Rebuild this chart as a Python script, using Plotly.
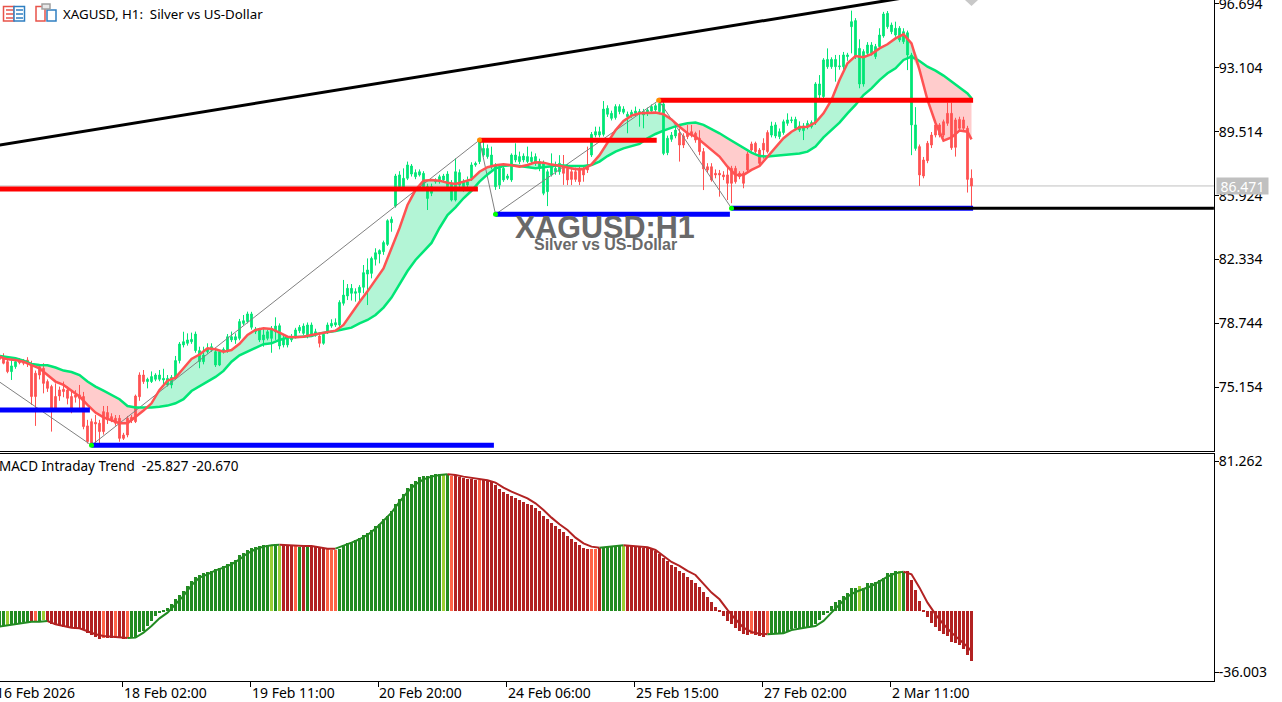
import plotly.graph_objects as go

# candle values, one per H1 bar
bodyTop = [
    76.88, 76.88, 76.60, 76.36, 76.60, 76.69, 76.65, 76.69, 76.41, 75.95,
    76.32, 76.23, 75.48, 75.20, 74.64, 75.01, 75.05, 75.01, 74.64, 74.73,
    74.73, 74.64, 72.99, 73.23, 73.19, 73.14, 73.79, 73.74, 73.51, 73.42,
    73.42, 72.48, 73.42, 73.47, 74.67, 75.85, 75.85, 75.61, 75.76, 75.85,
    75.85, 75.66, 75.66, 75.72, 76.66, 77.59, 77.72, 77.82, 77.85, 78.15,
    77.22, 76.97, 77.35, 77.44, 77.16, 77.16, 77.29, 78.0, 78.0, 78.0,
    78.85, 78.9, 79.28, 79.28, 78.42, 78.38, 78.1, 78.28, 78.47, 78.6,
    78.62, 77.91, 77.91, 78.0, 78.38, 78.53, 78.6, 78.66, 78.66, 78.28,
    78.04, 78.14, 78.66, 78.75, 78.79, 79.93, 80.34, 80.72, 80.72, 80.53,
    80.78, 81.6, 81.75, 82.4, 82.72, 82.84, 83.29, 84.52, 84.6, 87.03,
    87.09, 86.9, 87.65, 87.59, 87.22, 87.27, 87.18, 86.43, 86.43, 86.81,
    86.99, 87.03, 87.14, 86.62, 87.27, 87.22, 86.71, 86.71, 87.65, 87.74,
    88.96, 88.58, 88.58, 88.21, 87.59, 87.46, 87.46, 87.03, 88.21, 88.21,
    88.12, 88.15, 88.12, 88.08, 88.12, 87.84, 87.74, 87.27, 87.55, 87.46,
    87.74, 87.55, 87.46, 87.27, 87.27, 87.37, 87.41, 87.65, 89.37, 89.52,
    89.52, 90.79, 90.83, 90.55, 90.93, 90.93, 90.79, 90.5, 90.61, 90.68,
    90.65, 90.65, 90.74, 90.93, 90.98, 91.11, 91.08, 89.15, 89.33, 89.61,
    89.43, 89.28, 89.43, 89.52, 89.43, 89.15, 88.4, 87.55, 87.55, 87.18,
    87.18, 87.09, 87.09, 87.46, 87.46, 87.18, 87.18, 88.27, 88.83, 88.87,
    88.49, 88.87, 89.47, 89.84, 89.9, 89.52, 90.08, 90.18, 90.18, 90.21,
    89.84, 89.84, 89.99, 90.03, 92.2, 92.2, 93.55, 93.58, 93.58, 93.58,
    93.21, 93.83, 93.83, 95.7, 95.76, 94.2, 94.02, 94.39, 94.39, 94.3,
    94.95, 96.13, 96.17, 95.51, 95.33, 95.33, 95.14, 95.08, 93.83, 89.9,
    88.68, 87.93, 88.87, 89.33, 89.9, 89.9, 90.08, 90.55, 90.55, 90.18,
    90.21, 90.18, 89.71, 86.9,
]
bodyBottom = [
    76.73, 76.51, 76.04, 76.04, 76.32, 76.54, 76.51, 76.47, 74.64, 74.64,
    75.85, 75.38, 75.10, 73.98, 73.98, 74.67, 74.92, 74.54, 73.98, 74.6,
    74.54, 72.95, 72.11, 72.01, 73.10, 72.67, 72.67, 73.33, 73.33, 73.14,
    72.29, 72.29, 72.48, 73.29, 73.23, 74.63, 75.48, 75.48, 75.48, 75.61,
    75.61, 75.57, 75.29, 75.29, 75.72, 76.66, 77.54, 77.63, 77.72, 77.22,
    76.60, 76.60, 77.16, 77.25, 76.41, 76.41, 77.16, 77.22, 77.82, 77.82,
    77.91, 78.75, 78.85, 78.53, 78.28, 77.82, 77.82, 77.91, 77.91, 78.28,
    77.48, 77.54, 77.54, 77.82, 78.04, 78.34, 78.19, 78.1, 78.15, 78.1,
    77.63, 77.63, 78.28, 78.6, 78.66, 78.66, 79.88, 80.29, 80.44, 80.44,
    80.48, 80.78, 81.52, 81.56, 82.35, 82.65, 82.78, 83.19, 84.41, 85.34,
    86.43, 86.34, 86.9, 87.14, 86.99, 87.09, 86.43, 85.77, 86.06, 86.71,
    86.71, 86.81, 86.43, 85.68, 85.68, 86.52, 86.43, 86.52, 86.9, 87.65,
    87.84, 88.21, 88.12, 87.55, 86.43, 86.52, 86.81, 86.9, 86.81, 87.93,
    87.84, 87.93, 87.84, 87.84, 87.74, 87.46, 86.06, 86.15, 87.09, 87.27,
    87.27, 87.18, 86.81, 86.84, 86.84, 86.71, 87.09, 87.37, 88.21, 89.33,
    89.33, 89.37, 90.5, 90.27, 90.31, 90.65, 90.61, 90.36, 90.46, 90.55,
    90.55, 90.46, 90.55, 90.68, 90.74, 90.65, 88.3, 88.34, 89.09, 89.28,
    88.77, 88.77, 89.24, 89.33, 89.05, 88.4, 87.43, 87.37, 86.81, 87.09,
    87.09, 86.99, 86.62, 86.62, 86.71, 86.99, 86.62, 87.37, 88.49, 88.4,
    87.74, 88.49, 88.4, 89.33, 89.28, 89.24, 89.47, 89.99, 90.14, 89.71,
    89.61, 89.58, 89.8, 89.8, 90.03, 91.58, 91.49, 93.17, 93.17, 93.17,
    93.17, 93.17, 93.74, 95.42, 93.74, 92.2, 92.2, 93.92, 93.92, 93.74,
    94.3, 94.9, 95.42, 95.14, 94.95, 94.67, 94.58, 93.83, 89.9, 88.58,
    87.09, 87.03, 87.89, 88.77, 89.33, 89.33, 89.33, 89.99, 88.62, 88.64,
    89.71, 89.71, 86.84, 86.47,
]
highs = [
    77.0, 77.07, 76.79, 76.69, 76.72, 76.8, 76.75, 76.85, 76.65, 76.1,
    76.45, 76.51, 75.6, 75.3, 75.38, 75.2, 75.48, 75.2, 75.0, 75.0,
    75.29, 74.9, 73.33, 73.4, 73.61, 73.33, 74.11, 74.11, 73.7, 73.6,
    73.6, 72.6, 73.55, 73.6, 74.75, 76.0, 76.13, 75.7, 76.05, 75.95,
    76.13, 76.2, 75.85, 75.85, 76.92, 77.7, 78.28, 78.19, 78.23, 78.29,
    77.44, 77.44, 77.63, 77.63, 77.3, 77.25, 77.4, 78.15, 78.29, 78.19,
    79.0, 79.22, 79.41, 79.4, 78.55, 78.5, 78.47, 78.4, 78.6, 79.09,
    78.75, 78.05, 78.0, 78.15, 78.5, 78.66, 78.75, 78.8, 78.8, 78.45,
    78.2, 78.25, 78.8, 78.98, 79.03, 80.05, 81.19, 80.96, 80.96, 80.72,
    80.9, 82.03, 82.4, 82.5, 82.97, 82.91, 83.4, 84.6, 84.75, 87.15,
    87.3, 87.46, 87.84, 87.7, 87.4, 87.4, 87.3, 86.6, 86.6, 86.9,
    87.1, 87.15, 87.3, 86.8, 88.02, 87.4, 86.85, 87.0, 87.8, 87.84,
    89.05, 89.05, 88.8, 88.68, 87.75, 87.6, 87.6, 87.15, 88.3, 88.87,
    88.4, 88.3, 88.68, 88.4, 88.3, 88.0, 87.9, 87.4, 88.3, 87.84,
    88.2, 88.21, 87.7, 87.5, 87.5, 87.6, 87.6, 88.68, 89.5, 89.8,
    89.8, 91.24, 91.0, 90.7, 91.06, 91.06, 90.95, 90.65, 90.75, 90.93,
    90.8, 90.8, 90.87, 91.05, 91.1, 91.4, 91.2, 89.3, 89.5, 89.8,
    89.7, 89.43, 89.9, 89.9, 89.52, 89.6, 88.6, 87.75, 87.75, 87.4,
    87.37, 87.3, 87.55, 87.6, 87.6, 87.3, 87.3, 88.4, 88.96, 88.96,
    88.6, 89.15, 89.6, 90.08, 90.05, 89.7, 90.2, 90.55, 90.36, 90.36,
    90.1, 90.0, 90.15, 90.15, 92.3, 92.7, 93.65, 94.2, 93.7, 93.83,
    93.83, 94.0, 93.95, 96.32, 95.9, 94.71, 94.15, 94.55, 94.55, 94.45,
    95.33, 96.25, 96.3, 95.65, 95.7, 95.45, 95.33, 95.2, 93.95, 90.9,
    88.8, 88.1, 89.0, 89.5, 90.18, 90.0, 90.2, 91.15, 91.15, 90.3,
    90.36, 90.36, 89.85, 87.4,
]
lows = [
    76.65, 76.45, 75.95, 75.57, 76.2, 76.45, 76.4, 76.3, 74.17, 72.99,
    75.6, 74.82, 74.9, 72.67, 73.9, 74.4, 74.6, 74.2, 73.7, 74.3,
    73.79, 72.8, 72.0, 71.95, 72.01, 72.01, 72.5, 73.1, 73.2, 73.0,
    72.1, 72.2, 72.35, 73.15, 73.15, 74.4, 75.35, 75.1, 75.4, 75.5,
    75.5, 75.29, 75.2, 75.1, 75.6, 76.5, 77.4, 77.5, 77.6, 77.1,
    76.23, 76.45, 77.05, 77.15, 76.3, 76.35, 77.05, 77.1, 77.7, 77.6,
    77.8, 78.65, 78.75, 78.4, 78.15, 77.7, 77.44, 77.8, 77.1, 77.82,
    77.29, 77.4, 77.4, 77.7, 77.9, 78.2, 78.1, 77.91, 78.05, 78.0,
    77.4, 77.55, 78.15, 78.5, 78.55, 78.55, 79.75, 80.06, 80.03, 79.97,
    79.97, 80.44, 79.78, 81.28, 82.0, 82.12, 82.6, 83.1, 83.9, 85.25,
    86.3, 86.2, 86.8, 87.0, 86.85, 87.0, 86.3, 85.12, 85.9, 86.6,
    86.6, 86.7, 86.3, 85.6, 85.6, 86.4, 86.15, 86.4, 86.75, 87.55,
    87.7, 88.1, 88.0, 87.4, 86.25, 86.3, 86.7, 86.8, 86.7, 87.8,
    87.7, 87.8, 87.75, 87.7, 87.6, 87.3, 85.95, 85.34, 87.0, 87.1,
    87.1, 86.53, 86.52, 86.52, 86.7, 86.52, 86.71, 87.2, 88.1, 89.2,
    89.2, 89.25, 90.35, 90.15, 90.2, 90.5, 90.5, 89.43, 90.3, 90.4,
    89.8, 89.71, 90.4, 90.55, 90.6, 90.5, 88.2, 88.2, 88.95, 89.15,
    87.84, 88.6, 89.1, 89.2, 88.9, 88.2, 86.24, 87.2, 86.71, 86.9,
    85.87, 86.8, 85.68, 85.5, 86.6, 86.85, 86.34, 87.25, 88.4, 88.3,
    87.6, 88.0, 88.3, 89.2, 89.15, 89.1, 89.35, 89.85, 90.0, 89.6,
    89.5, 89.05, 89.65, 89.7, 89.9, 91.4, 91.35, 93.05, 93.05, 92.33,
    93.0, 93.0, 93.5, 93.92, 93.6, 91.96, 92.05, 93.8, 93.8, 93.6,
    94.2, 94.8, 95.3, 95.0, 94.85, 94.55, 94.45, 92.98, 88.2, 88.45,
    86.47, 86.9, 87.75, 88.6, 89.2, 89.2, 89.2, 89.85, 88.5, 88.12,
    89.6, 89.6, 86.1, 85.31,
]
# first/last bar of each stretch with green candles, all the others are red
greenRuns = [(3, 4), (37, 79), (81, 140), (148, 169), (193, 229)]

# moving averages, read every second bar
maIndex = list(range(0, 243, 2)) + [243]
fastMA = [
    76.88, 76.73, 76.69, 76.6, 76.41, 76.23, 75.85, 75.48, 75.29, 74.97,
    74.64, 74.17, 73.74, 73.47, 73.29, 73.14, 73.14, 73.47, 73.85, 74.26,
    75.01, 75.53, 75.7, 76.23, 76.75, 77.0, 77.35, 77.3, 77.16, 77.25,
    77.6, 78.1, 78.38, 78.47, 78.44, 78.23, 78.0, 77.97, 78.0, 78.1,
    78.19, 78.28, 78.34, 78.66, 79.32, 79.95, 80.55, 81.22, 81.84, 82.97,
    84.1, 85.4, 86.24, 86.77, 86.81, 86.77, 86.65, 86.58, 86.71, 86.84,
    87.27, 87.52, 87.63, 87.69, 87.63, 87.55, 87.65, 87.8, 87.78, 87.67,
    87.61, 87.52, 87.41, 87.41, 87.68, 88.2, 88.87, 89.6, 90.12, 90.42,
    90.55, 90.59, 90.59, 90.5, 90.21, 89.8, 89.43, 89.24, 88.87, 88.49,
    88.12, 87.55, 87.09, 87.09, 87.37, 87.59, 88.12, 88.68, 89.15, 89.52,
    89.77, 89.8, 90.03, 90.55, 91.3, 92.42, 93.36, 93.77, 93.7, 93.88,
    94.2, 94.43, 94.76, 94.99, 94.48, 92.99, 91.3, 90.01, 89.02, 89.2,
    89.58, 89.52, 89.09,
]
slowMA = [
    76.92, 76.85, 76.79, 76.66, 76.47, 76.41, 76.40, 76.27, 76.10, 76.02,
    75.85, 75.48, 75.20, 74.97, 74.73, 74.49, 74.11, 74.02, 74.02, 74.02,
    74.07, 74.13, 74.26, 74.49, 74.95, 75.20, 75.48, 75.74, 76.08, 76.60,
    76.96, 77.18, 77.38, 77.58, 77.63, 77.82, 77.95, 77.97, 78.0, 78.04,
    78.19, 78.25, 78.32, 78.42, 78.51, 78.75, 78.94, 79.22, 79.64, 80.2,
    80.96, 81.69, 82.31, 82.76, 83.27, 84.11, 84.84, 85.27, 85.78, 86.2,
    86.71, 87.12, 87.46, 87.59, 87.65, 87.59, 87.52, 87.46, 87.52, 87.59,
    87.63, 87.61, 87.61, 87.59, 87.65, 87.84, 88.15, 88.4, 88.58, 88.71,
    88.83, 89.15, 89.39, 89.58, 89.75, 89.9, 89.99, 90.03, 89.9, 89.67,
    89.43, 89.15, 88.87, 88.58, 88.34, 88.15, 88.12, 88.17, 88.21, 88.27,
    88.3, 88.4, 88.68, 89.2, 89.61, 90.03, 90.55, 91.02, 91.58, 91.95,
    92.42, 92.8, 93.08, 93.55, 93.74, 93.49, 93.17, 92.95, 92.67, 92.33,
    91.96, 91.67, 91.4,
]

# support/resistance levels: first bar, last bar, price
redLevels = [(0, 119.6, 86.30), (120, 164.3, 89.04), (164.8, 243.4, 91.28)]
blueLevels = [(0, 22.6, 73.88), (23, 123.6, 71.90), (124, 182.6, 84.88), (183, 243.4, 85.22)]
blackLevel = (183.5, 303.6, 85.22)
trendX = [0, 240]
trendY = [88.77, 97.55]
zigzagX = [0, 23, 120, 124, 164.8, 183]
zigzagY = [75.46, 71.90, 89.05, 84.88, 91.28, 85.22]
lowDotsX = [23, 124, 183]
lowDotsY = [71.90, 84.88, 85.22]
highDotsX = [120, 164.8]
highDotsY = [89.05, 91.28]
currentPrice = 86.471

priceTicks = [96.694, 93.104, 89.514, 85.924, 82.334, 78.744, 75.154]

# MACD pane
macdHist = [
    -7.92, -7.58, -7.06, -6.72, -6.72, -6.2, -5.51, -5.34, -5.34, -5.34,
    -4.99, -4.48, -5.51, -6.37, -7.06, -7.75, -7.92, -7.92, -8.78, -8.95,
    -8.78, -9.3, -11.02, -12.4, -13.09, -14.12, -13.6, -13.6, -13.6, -13.6,
    -13.78, -14.46, -13.95, -13.95, -13.95, -10.68, -10.16, -7.58, -4.99, -2.41,
    -0.69, 0.69, 1.89, 3.62, 6.2, 8.44, 10.5, 13.09, 15.67, 17.91,
    18.6, 19.63, 20.32, 20.84, 21.7, 22.56, 23.42, 24.28, 25.49, 26.52,
    28.93, 30.31, 31.68, 32.89, 33.41, 33.75, 34.1, 34.27, 34.1, 34.61,
    33.75, 34.1, 34.1, 34.1, 33.75, 33.41, 33.41, 33.41, 33.41, 33.41,
    32.89, 32.55, 32.03, 31.68, 31.68, 32.37, 34.1, 35.13, 35.82, 36.85,
    37.71, 39.26, 40.29, 42.02, 44.08, 45.29, 47.53, 49.25, 51.83, 55.28,
    57.86, 60.44, 63.54, 65.61, 67.33, 69.4, 69.91, 69.91, 70.26, 70.77,
    70.77, 70.77, 70.77, 69.91, 70.26, 69.57, 69.05, 68.54, 68.19, 67.85,
    67.85, 67.85, 67.33, 66.81, 65.09, 63.37, 61.65, 60.44, 59.58, 58.72,
    57.51, 56.48, 55.62, 54.76, 53.55, 51.83, 49.25, 47.53, 45.81, 44.08,
    42.36, 40.98, 38.92, 37.54, 35.82, 34.1, 32.72, 32.37, 32.03, 32.37,
    32.89, 32.89, 33.23, 33.41, 33.75, 34.1, 33.75, 33.75, 33.75, 33.41,
    33.41, 32.89, 32.72, 32.37, 31.17, 29.45, 27.72, 26.0, 23.94, 22.9,
    20.84, 19.63, 17.91, 16.19, 14.81, 12.74, 9.99, 7.58, 4.82, 2.41,
    0.3, -2.41, -4.99, -6.72, -8.44, -10.16, -11.54, -12.23, -11.54, -12.23,
    -12.74, -13.09, -11.88, -11.54, -11.54, -11.54, -11.02, -10.5, -9.3, -8.78,
    -8.44, -8.44, -8.09, -8.09, -6.72, -4.48, -1.89, -0.69, 2.76, 4.99,
    5.85, 7.92, 9.3, 12.23, 12.23, 13.09, 11.88, 14.81, 14.46, 15.33,
    16.19, 17.39, 19.63, 19.98, 20.84, 20.84, 20.32, 20.84, 16.19, 11.02,
    5.34, 0.69, -2.93, -5.85, -7.92, -10.16, -11.88, -12.74, -15.67, -16.19,
    -17.56, -19.29, -22.73, -25.827,
]
macdSignal = [
    -7.92, -7.23, -6.72, -5.85, -5.34, -5.34, -4.99, -6.72, -7.58, -8.44,
    -8.78, -10.16, -11.88, -12.74, -13.09, -13.26, -13.78, -13.6, -11.02, -7.58,
    -3.62, -0.69, 3.62, 7.92, 13.43, 17.39, 19.11, 21.18, 22.56, 24.28,
    26.86, 29.96, 32.03, 33.41, 34.1, 34.44, 34.1, 33.92, 33.75, 33.75,
    33.23, 32.37, 32.37, 33.75, 35.47, 37.2, 39.43, 42.71, 46.67, 50.97,
    56.48, 61.65, 65.61, 68.19, 69.57, 70.43, 70.77, 70.43, 69.57, 68.88,
    68.19, 67.67, 66.47, 63.89, 61.82, 60.1, 58.38, 55.79, 52.35, 48.39,
    44.94, 42.02, 38.06, 35.13, 33.41, 32.89, 33.23, 33.92, 34.1, 33.75,
    33.58, 33.06, 31.68, 28.59, 25.49, 23.42, 20.84, 18.77, 13.95, 9.64,
    6.2, 0.69, -4.13, -8.44, -10.68, -11.54, -11.88, -11.54, -11.37, -9.64,
    -8.78, -8.27, -7.58, -4.99, -0.69, 3.62, 7.58, 9.99, 11.37, 13.09,
    15.5, 17.91, 19.63, 20.49, 19.11, 12.23, 4.48, -1.55, -6.72, -11.02,
    -14.46, -18.25, -20.67,
]
# colour name, number of bars
macdRuns = [
    ("g", 2), ("l", 1), ("g", 5), ("r", 1), ("o", 1), ("g", 1), ("l", 1), ("r", 14), ("o", 1), ("r", 2),
    ("o", 1), ("r", 2), ("o", 1), ("g", 35), ("l", 1), ("g", 1), ("l", 1), ("r", 3), ("o", 1), ("g", 1),
    ("r", 1), ("g", 1), ("r", 4), ("o", 3), ("g", 26), ("l", 1), ("g", 1), ("o", 1), ("r", 6), ("o", 1),
    ("r", 27), ("o", 2), ("r", 1), ("g", 5), ("l", 1), ("r", 31), ("o", 1), ("r", 3), ("o", 1), ("g", 22),
    ("l", 1), ("g", 9), ("l", 1), ("g", 1), ("r", 17),
]
# where the signal line changes colour: first bar, last bar, colour name
signalRuns = [
    (0, 12, "g"), (12, 32, "r"), (32, 70, "g"), (70, 84, "r"), (84, 112, "g"),
    (112, 150, "r"), (150, 156, "g"), (156, 192, "r"), (192, 226, "g"), (226, 243, "r"),
]
macdTickLabels = ["81.262", "-36.003"]

dateLabels = ["16 Feb 2026", "18 Feb 02:00", "19 Feb 11:00", "20 Feb 20:00", "24 Feb 06:00",
              "25 Feb 15:00", "27 Feb 02:00", "2 Mar 11:00"]
dateBars = [-1, 31, 63, 95, 127, 159, 191, 223]

titleText = "XAGUSD, H1:\u00a0\u00a0Silver vs US-Dollar"
macdTitle = "MACD Intraday Trend\u00a0\u00a0-25.827 -20.670"
watermark = "XAGUSD:H1"
watermarkSub = "Silver vs US-Dollar"

WIDTH = 1282
HEIGHT = 702
GREEN = "#00E676"
RED = "#FF5252"
MACD_COLOURS = {"g": "#228B22", "l": "#9ACD32", "r": "#B22222", "o": "#FF6347"}
AXIS_FONT = dict(family="Noto Sans", size=14, color="black")


def px(x):
    return x / WIDTH


def py(y):
    return 1 - y / HEIGHT


barIndex = list(range(len(highs)))
greenBars = set()
for first, last in greenRuns:
    greenBars.update(range(first, last + 1))
opens = [bodyBottom[i] if i in greenBars else bodyTop[i] for i in barIndex]
closes = [bodyTop[i] if i in greenBars else bodyBottom[i] for i in barIndex]

macdColours = []
for name, count in macdRuns:
    macdColours += [MACD_COLOURS[name]] * count

fig = go.Figure()

# cloud goes on the base axes so the candles on the overlaid axis stay on top of it
cloudTop = [max(f, s) for f, s in zip(fastMA, slowMA)]
cloudBottom = [min(f, s) for f, s in zip(fastMA, slowMA)]
fig.add_trace(go.Scatter(x=maIndex, y=slowMA, mode="lines", line=dict(width=0), xaxis="x", yaxis="y"))
fig.add_trace(go.Scatter(x=maIndex, y=cloudTop, mode="lines", line=dict(width=0), fill="tonexty",
                         fillcolor="#B3F5D6", xaxis="x", yaxis="y"))
fig.add_trace(go.Scatter(x=maIndex, y=slowMA, mode="lines", line=dict(width=0), xaxis="x", yaxis="y"))
fig.add_trace(go.Scatter(x=maIndex, y=cloudBottom, mode="lines", line=dict(width=0), fill="tonexty",
                         fillcolor="#FFCCCC", xaxis="x", yaxis="y"))
fig.add_trace(go.Scatter(x=[0, 303.6], y=[currentPrice, currentPrice], mode="lines",
                         line=dict(color="#C0C0C0", width=1), xaxis="x", yaxis="y"))

fig.add_trace(go.Candlestick(
    x=barIndex, open=opens, high=highs, low=lows, close=closes,
    increasing=dict(line=dict(color=GREEN, width=1), fillcolor=GREEN),
    decreasing=dict(line=dict(color=RED, width=1), fillcolor=RED),
    whiskerwidth=0, xaxis="x", yaxis="y3",
))

fig.add_trace(go.Scatter(x=zigzagX, y=zigzagY, mode="lines", line=dict(color="#808080", width=1),
                         xaxis="x", yaxis="y3"))
fig.add_trace(go.Scatter(x=trendX, y=trendY, mode="lines", line=dict(color="black", width=3),
                         xaxis="x", yaxis="y3"))
fig.add_trace(go.Scatter(x=maIndex, y=slowMA, mode="lines", line=dict(color=GREEN, width=2.5),
                         xaxis="x", yaxis="y3"))
fig.add_trace(go.Scatter(x=maIndex, y=fastMA, mode="lines", line=dict(color=RED, width=2.5),
                         xaxis="x", yaxis="y3"))

for first, last, price in redLevels:
    fig.add_trace(go.Scatter(x=[first, last], y=[price, price], mode="lines",
                             line=dict(color="#FF0000", width=5), xaxis="x", yaxis="y3"))
for first, last, price in blueLevels:
    fig.add_trace(go.Scatter(x=[first, last], y=[price, price], mode="lines",
                             line=dict(color="#0000FF", width=5), xaxis="x", yaxis="y3"))
fig.add_trace(go.Scatter(x=[blackLevel[0], blackLevel[1]], y=[blackLevel[2], blackLevel[2]], mode="lines",
                         line=dict(color="black", width=3), xaxis="x", yaxis="y3"))
fig.add_trace(go.Scatter(x=lowDotsX, y=lowDotsY, mode="markers", marker=dict(color="#00FF00", size=5),
                         xaxis="x", yaxis="y3"))
fig.add_trace(go.Scatter(x=highDotsX, y=highDotsY, mode="markers", marker=dict(color="#FF8C00", size=5),
                         xaxis="x", yaxis="y3"))

# MACD pane
fig.add_trace(go.Bar(x=barIndex, y=macdHist, width=0.75, marker=dict(color=macdColours, line=dict(width=0)),
                     xaxis="x2", yaxis="y2"))
for first, last, name in signalRuns:
    runX = [x for x in maIndex if first <= x <= last]
    runY = [macdSignal[maIndex.index(x)] for x in runX]
    fig.add_trace(go.Scatter(x=runX, y=runY, mode="lines", line=dict(color=MACD_COLOURS[name], width=2),
                             xaxis="x2", yaxis="y2"))

annotations = [
    dict(x=px(61), y=py(14), xref="paper", yref="paper", text=titleText, showarrow=False,
         xanchor="left", yanchor="middle", font=dict(family="Noto Sans", size=13.3, color="black")),
    dict(x=px(-3), y=py(466), xref="paper", yref="paper", text=macdTitle, showarrow=False,
         xanchor="left", yanchor="middle", font=dict(family="Noto Sans", size=13.5, color="black")),
    dict(x=px(605), y=py(227), xref="paper", yref="paper", text=watermark, showarrow=False,
         xanchor="center", yanchor="middle",
         font=dict(family="Liberation Sans", size=30.5, color="#696969", weight="bold")),
    dict(x=px(605), y=py(245), xref="paper", yref="paper", text=watermarkSub, showarrow=False,
         xanchor="center", yanchor="middle",
         font=dict(family="Liberation Sans", size=16, color="#696969", weight="bold")),
    dict(x=px(1242.5), y=py(186), xref="paper", yref="paper", text=f"{currentPrice:.3f}", showarrow=False,
         xanchor="center", yanchor="middle", bgcolor="#C0C0C0", borderpad=0, width=51, height=16,
         font=dict(family="Noto Sans", size=14, color="white")),
]
for bar, label in zip(dateBars, dateLabels):
    annotations.append(dict(x=px(4 * bar - 0.5), y=py(692), xref="paper", yref="paper", text=label, showarrow=False,
                            xanchor="left", yanchor="middle", xshift=-2, font=AXIS_FONT))


def paperRect(x0, y0, x1, y1, colour, fill="white"):
    return dict(type="rect", xref="paper", yref="paper", x0=px(x0), y0=py(y0), x1=px(x1), y1=py(y1),
                line=dict(color=colour, width=1.5), fillcolor=fill)


def paperLine(x0, y0, x1, y1, colour):
    return dict(type="line", xref="paper", yref="paper", x0=px(x0), y0=py(y0), x1=px(x1), y1=py(y1),
                line=dict(color=colour, width=1.5))


# small toolbar icons and the grey one-click marker at the top edge
shapes = [
    paperRect(3.5, 6.5, 14, 21, "#E8534A"),
    paperRect(14, 6.5, 24.5, 21, "#2F7FC1"),
    paperRect(36, 6.5, 45, 21, "#E8534A"),
    paperRect(47, 10, 56, 21, "#2F7FC1"),
    paperRect(42, 4, 50, 9, "#A0A0A0", fill="#E8E8E8"),
    dict(type="path", xref="paper", yref="paper",
         path=f"M {px(965)} {py(0)} L {px(978)} {py(0)} L {px(971.5)} {py(6)} Z",
         fillcolor="#C8C8C8", line=dict(width=0)),
]
for lineY in [10, 14, 18]:
    shapes.append(paperLine(6, lineY, 13, lineY, "#E8534A"))
    shapes.append(paperLine(16, lineY, 23, lineY, "#2F7FC1"))

axisLine = dict(showline=True, linecolor="black", linewidth=1, showgrid=False, zeroline=False)
# price shown at the top and bottom pixel of the main pane
priceRange = [71.58, 96.918]

fig.update_layout(
    width=WIDTH,
    height=HEIGHT,
    margin=dict(l=0, r=0, t=0, b=0, autoexpand=False),
    paper_bgcolor="white",
    plot_bgcolor="white",
    showlegend=False,
    hovermode=False,
    boxgap=0.4,
    bargap=0,
    annotations=annotations,
    shapes=shapes,
    xaxis=dict(domain=[0, px(1214)], range=[0.125, 303.625], anchor="y", showticklabels=False,
               ticks="", rangeslider=dict(visible=False), **axisLine),
    yaxis=dict(domain=[py(451), 1], range=priceRange, anchor="x", side="right",
               tickvals=priceTicks, ticktext=[f"{v:.3f}" for v in priceTicks], ticks="outside",
               ticklen=4, tickcolor="black", tickfont=AXIS_FONT, ticklabeloverflow="allow",
               ticklabelstandoff=-3, **axisLine),
    yaxis3=dict(range=priceRange, overlaying="y", side="right", visible=False),
    xaxis2=dict(domain=[0, px(1214)], range=[0.125, 303.625], anchor="y2", showticklabels=False,
                tickvals=[b - 0.2 for b in dateBars], ticks="outside", ticklen=5, tickcolor="black",
                mirror=True, **axisLine),
    # the two labels sit a little inside the pane edges they describe
    yaxis2=dict(domain=[py(681), py(454)], range=[-36.003, 81.262], anchor="x2", side="right",
                tickvals=[77.6, -31.4], ticktext=macdTickLabels, ticks="outside", ticklen=4,
                tickcolor="black", tickfont=AXIS_FONT, ticklabelstandoff=-3, **axisLine),
)

fig.write_html("out.html", config={"displayModeBar": False},
               post_script="document.body.style.margin='0';document.body.style.overflow='hidden';")
